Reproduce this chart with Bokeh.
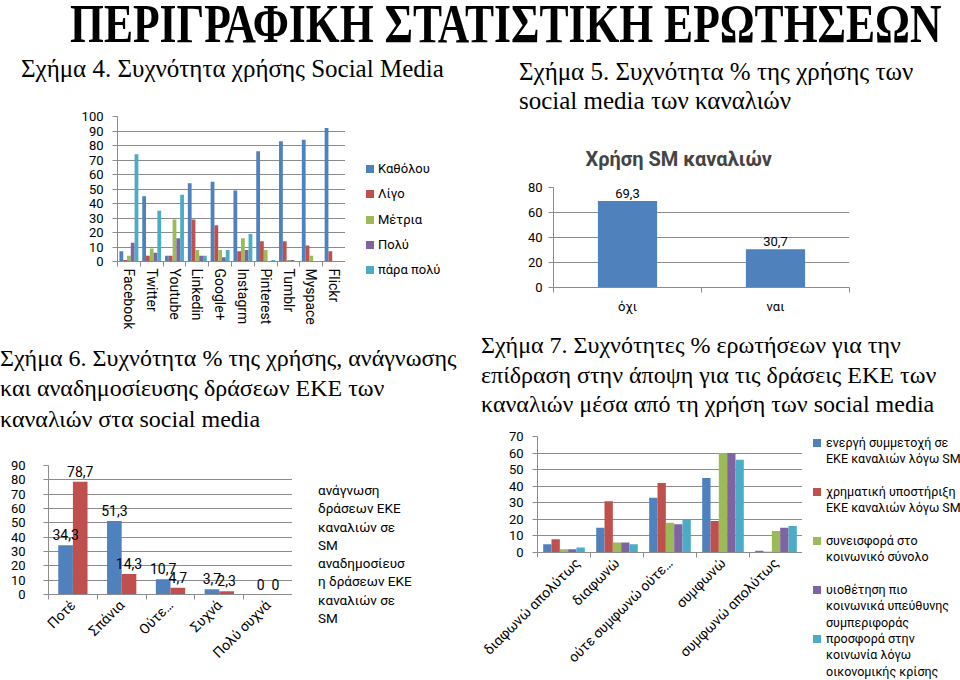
from bokeh.plotting import figure
from bokeh.models import Div, FixedTicker, ColumnDataSource, Range1d
from bokeh.layouts import column, row
from bokeh.embed import file_html
from bokeh.resources import INLINE
from bokeh.core.properties import value
from bokeh.transform import dodge

# ---------------- data ----------------
# Σχήμα 4
sm_platforms = ["Facebook", "Twitter", "Youtube", "Linkedin", "Google+", "Instagrm",
                "Pinterest", "Tumblr", "Myspace", "Flickr"]
sm_levels = ["Καθόλου", "Λίγο", "Μέτρια", "Πολύ", "πάρα πολύ"]
sm_katholou = [7, 45, 4, 54, 55, 49, 76, 83, 84, 92]
sm_ligo = [1, 4, 4, 29, 25, 7, 14, 14, 11, 7]
sm_metria = [4, 9, 29, 8, 8, 16, 8, 1, 4, 0]
sm_poly = [13, 6, 16, 4, 3, 8, 0, 1, 0, 0]
sm_parapoly = [74, 35, 46, 4, 8, 19, 1, 0, 0, 0]

# Σχήμα 5
use_cats = ["όχι", "ναι"]
use_vals = [69.3, 30.7]

# Σχήμα 6
freq_cats = ["Ποτέ", "Σπάνια", "Ούτε…", "Συχνά", "Πολύ συχνά"]
read_vals = [34.3, 51.3, 10.7, 3.7, 0]
repost_vals = [78.7, 14.3, 4.7, 2.3, 0]
freq_series = [["ανάγνωση", "δράσεων ΕΚΕ", "καναλιών σε", "SM"],
               ["αναδημοσίευσ", "η δράσεων ΕΚΕ", "καναλιών σε", "SM"]]

# Σχήμα 7
agree_cats = ["διαφωνώ απολύτως", "διαφωνώ", "ούτε συμφωνώ ούτε…", "συμφωνώ", "συμφωνώ απολύτως"]
agree_active = [5, 15, 33, 45, 1]
agree_money = [8, 31, 42, 19, 0.5]
agree_society = [2, 6, 18, 60, 13]
agree_behav = [2, 6, 17, 60, 15]
agree_crisis = [3, 5, 20, 56, 16]
agree_series = [["ενεργή συμμετοχή σε", "ΕΚΕ καναλιών λόγω SM"],
                ["χρηματική υποστήριξη", "ΕΚΕ καναλιών λόγω SM"],
                ["συνεισφορά στο", "κοινωνικό σύνολο"],
                ["υιοθέτηση πιο", "κοινωνικά υπεύθυνης", "συμπεριφοράς"],
                ["προσφορά στην", "κοινωνία λόγω", "οικονομικής κρίσης"]]

FONT = "Roboto"
GRID = "#8c8c8c"
COLORS = ["#4F81BD", "#C0504D", "#9BBB59", "#8064A2", "#4BACC6"]


def fmt(v):
    return "0" if v == 0 else f"{v:.1f}".replace(".", ",")


def make_fig(w, h, left, right, top, bottom, cats, ymax, ystep, y_standoff,
             orient="horizontal", xfs="13px", x_standoff=4):
    n = len(cats)
    p = figure(width=w, height=h, x_range=Range1d(0.5, n + 0.5), y_range=Range1d(0, ymax),
               output_backend="svg", toolbar_location=None,
               min_border_left=left, min_border_right=right,
               min_border_top=top, min_border_bottom=bottom)
    p.outline_line_color = None
    p.xgrid.visible = False
    p.ygrid.grid_line_color = GRID
    ya = p.yaxis[0]
    ya.ticker = FixedTicker(ticks=list(range(0, ymax + 1, ystep)))
    ya.axis_line_color = GRID
    ya.major_tick_line_color = GRID
    ya.major_tick_in = 0
    ya.major_tick_out = 5
    ya.minor_tick_line_color = None
    ya.major_label_standoff = y_standoff
    ya.major_label_text_font = FONT
    ya.major_label_text_font_size = "13px"
    ya.major_label_text_color = "#000000"
    xa = p.xaxis[0]
    xa.ticker = FixedTicker(ticks=list(range(1, n + 1)),
                            minor_ticks=[i + 0.5 for i in range(n + 1)])
    xa.major_label_overrides = {i + 1: c for i, c in enumerate(cats)}
    xa.major_tick_line_color = None
    xa.major_tick_in = 0
    xa.major_tick_out = 5
    xa.minor_tick_line_color = GRID
    xa.minor_tick_in = 0
    xa.minor_tick_out = 5
    xa.axis_line_color = GRID
    xa.major_label_orientation = orient
    xa.major_label_standoff = x_standoff
    xa.major_label_text_font = FONT
    xa.major_label_text_font_size = xfs
    xa.major_label_text_color = "#000000"
    return p


def legend_div(w, h, entries, colors, left, top, fs, lh, pitch, key=8, gap=4):
    # legend box placed beside the chart: colour key on the first line of each entry
    rows = []
    for lines, c in zip(entries, colors):
        if key:
            sw = ('<div style="flex:none;width:%dpx;height:%dpx;background:%s;'
                  'margin-top:%.1fpx;margin-right:%dpx;"></div>'
                  % (key, key, c, (lh - key) / 2, gap))
        else:
            sw = '<div style="flex:none;width:%dpx;"></div>' % gap
        rows.append('<div style="display:flex;align-items:flex-start;height:%spx;">%s'
                    '<div style="line-height:%spx;white-space:nowrap;">%s</div></div>'
                    % (pitch, sw, lh, "<br>".join(lines)))
    html = ('<div style="font-family:%s;font-size:%s;color:#000;margin-left:%spx;'
            'margin-top:%spx;">%s</div>' % (FONT, fs, left, top, "".join(rows)))
    return Div(text=html, width=w, height=h, margin=0)


def serif_div(lines, w, h, fs, lh, left, base1, bold=False, sx=1.0, sy=1.0):
    top_to_base = (lh - 1.107 * fs) / 2 + 0.891 * fs
    mt = base1 - top_to_base
    html = ('<div style="font-family:\'Liberation Serif\';font-size:%spx;line-height:%spx;'
            'font-weight:%s;white-space:nowrap;color:#000;margin-left:%spx;margin-top:%.1fpx;'
            'transform:scale(%s,%s);transform-origin:0 %.1fpx;">%s</div>'
            % (fs, lh, "bold" if bold else "normal", left, mt, sx, sy, top_to_base,
               "<br>".join(lines)))
    return Div(text=html, width=w, height=h, margin=0)


# ---------------- Σχήμα 4 ----------------
p1 = make_fig(345, 242, 117, 0, 26, 69, sm_platforms, 100, 10, 9,
              orient="vertical", xfs="14px", x_standoff=2)
src1 = ColumnDataSource(dict(x=list(range(1, 11)), a=sm_katholou, b=sm_ligo, c=sm_metria,
                             d=sm_poly, e=sm_parapoly))
bw1 = 0.166
for k, col in enumerate(["a", "b", "c", "d", "e"]):
    p1.vbar(x=dodge("x", (k - 2) * bw1, range=p1.x_range), top=col, width=bw1,
            source=src1, fill_color=COLORS[k], line_color=None)
leg1 = legend_div(135, 242, [[s] for s in sm_levels], COLORS, 21, 71, "13px", 16, 25.3,
                  key=8, gap=4)

# ---------------- Σχήμα 5 ----------------
p2 = make_fig(480, 205, 73, 111, 60, 45, use_cats, 80, 20, 6, xfs="13px", x_standoff=6)
p2.title.text = "Χρήση SM καναλιών"
p2.title.text_font = FONT
p2.title.text_font_size = "20px"
p2.title.text_font_style = "bold"
p2.title.align = "left"
p2.title.offset = 32
p2.title.standoff = 34
src2 = ColumnDataSource(dict(x=[1, 2], v=use_vals, lbl=[fmt(v) for v in use_vals]))
p2.vbar(x="x", top="v", width=0.4, source=src2, fill_color=COLORS[0], line_color=None)
p2.text(x="x", y="v", text="lbl", source=src2, text_align="center", text_baseline="bottom",
        y_offset=-3, text_font=value(FONT), text_font_size="13px", text_color="#000000")

# ---------------- Σχήμα 6 ----------------
p3 = make_fig(292, 240, 48, 0, 25, 86, freq_cats, 90, 10, 18,
              orient=0.785398, xfs="14px", x_standoff=3)
src3 = ColumnDataSource(dict(x=list(range(1, 6)), a=read_vals, b=repost_vals,
                             la=[fmt(v) for v in read_vals], lb=[fmt(v) for v in repost_vals]))
pairs3 = [("a", "la"), ("b", "lb")]
for k, (col, lc) in enumerate(pairs3):
    xx = dodge("x", (k - 0.5) * 0.3, range=p3.x_range)
    p3.vbar(x=xx, top=col, width=0.3, source=src3, fill_color=COLORS[k], line_color=None)
for k, (col, lc) in enumerate(pairs3):
    xx = dodge("x", (k - 0.5) * 0.3, range=p3.x_range)
    p3.text(x=xx, y=col, text=lc, source=src3, text_align="center", text_baseline="bottom",
            y_offset=-5, text_font=value(FONT), text_font_size="14px", text_color="#000000")
leg3 = legend_div(188, 240, freq_series, COLORS[:2], 26, 41, "13.5px", 18.3, 73.2,
                  key=0, gap=0)

# ---------------- Σχήμα 7 ----------------
p4 = make_fig(322, 252, 57, 0, 8, 128, agree_cats, 70, 10, 9,
              orient=0.785398, xfs="14px", x_standoff=3)
src4 = ColumnDataSource(dict(x=list(range(1, 6)), a=agree_active, b=agree_money,
                             c=agree_society, d=agree_behav, e=agree_crisis))
bw4 = 0.157
for k, col in enumerate(["a", "b", "c", "d", "e"]):
    p4.vbar(x=dodge("x", (k - 2) * bw4, range=p4.x_range), top=col, width=bw4,
            source=src4, fill_color=COLORS[k], line_color=None)
leg4 = legend_div(158, 252, agree_series, COLORS, 11, 6.7, "12.5px", 16.5, 49,
                  key=8, gap=5)

# ---------------- texts ----------------
title = serif_div(["ΠΕΡΙΓΡΑΦΙΚΗ ΣΤΑΤΙΣΤΙΚΗ ΕΡΩΤΗΣΕΩΝ"], 960, 50, 44, 44, 70, 43,
                  bold=True, sx=0.99, sy=1.25)
d4 = serif_div(["Σχήμα 4. Συχνότητα χρήσης Social Media"], 480, 40, 25, 30, 21, 27)
d5 = serif_div(["Σχήμα 5. Συχνότητα % της χρήσης των", "social media των καναλιών"],
               480, 77, 25, 28.5, 39, 31)
d6 = serif_div(["Σχήμα 6. Συχνότητα % της χρήσης, ανάγνωσης",
                "και αναδημοσίευσης δράσεων ΕΚΕ των",
                "καναλιών στα social media"], 480, 108, 24, 30.6, 0, 34)
d7 = serif_div(["Σχήμα 7. Συχνότητες % ερωτήσεων για την",
                "επίδραση στην άποψη για τις δράσεις ΕΚΕ των",
                "καναλιών μέσα από τη χρήση των social media"], 480, 96, 24, 29.5, 1, 22)

layout = column(
    title,
    row(column(d4, row(p1, leg1, spacing=0), spacing=0), column(d5, p2, spacing=0), spacing=0),
    row(column(d6, row(p3, leg3, spacing=0), spacing=0),
        column(d7, row(p4, leg4, spacing=0), spacing=0), spacing=0),
    spacing=0,
)

open("out.html", "w").write(file_html(layout, INLINE))
